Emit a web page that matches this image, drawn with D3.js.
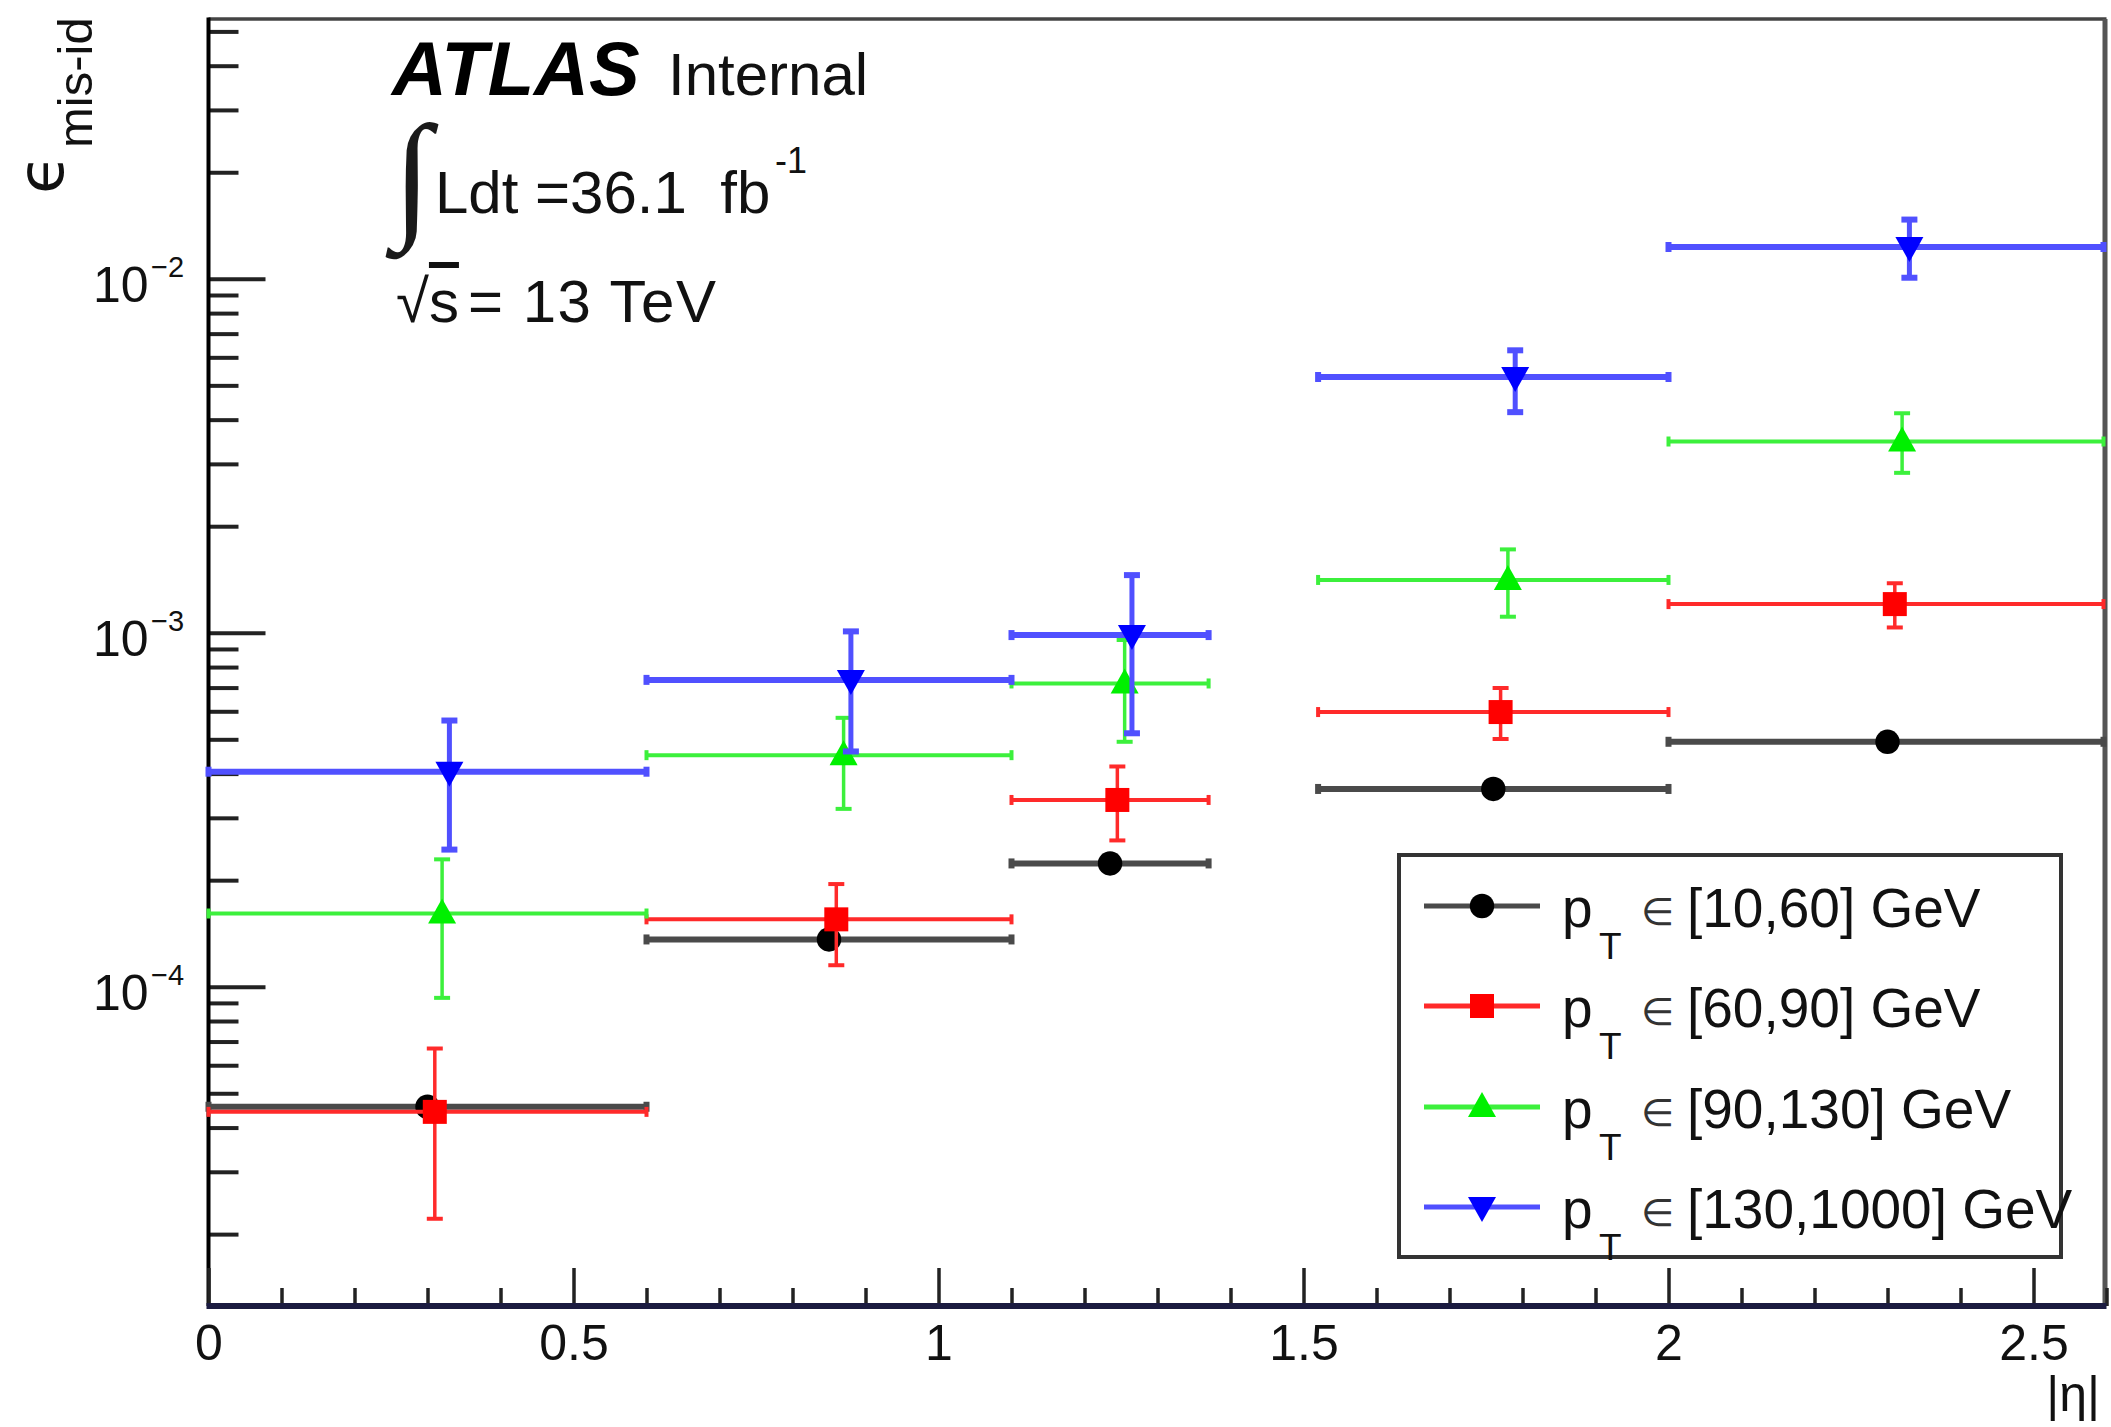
<!DOCTYPE html>
<html>
<head>
<meta charset="utf-8">
<script src="https://cdn.jsdelivr.net/npm/d3@7"></script>
<style>
  html, body { margin: 0; padding: 0; background: #fff; }
  svg { display: block; font-family: "Liberation Sans", Arial, Helvetica, sans-serif; }
  text { white-space: pre; }
</style>
</head>
<body>
<svg id="chart" width="2111" height="1427"></svg>
<script>
// |eta| bin edges (horizontal error bars span the whole bin)
const binLow  = [0.0, 0.6, 1.1, 1.52, 2.0];
const binHigh = [0.6, 1.1, 1.37, 2.0, 2.6];

// marker |eta| positions, one array per pT range
const etaPt10   = [0.300, 0.850, 1.235, 1.760, 2.300];
const etaPt60   = [0.310, 0.860, 1.245, 1.770, 2.310];
const etaPt90   = [0.320, 0.870, 1.255, 1.780, 2.320];
const etaPt130  = [0.330, 0.880, 1.265, 1.790, 2.330];

// mis-identification rate and its up/down uncertainties
const effPt10   = [4.58e-5, 1.36e-4, 2.23e-4, 3.62e-4, 4.92e-4];
const upPt10    = [1.5e-6, 4e-6, 6e-6, 8e-6, 1.0e-5];
const downPt10  = [1.5e-6, 4e-6, 6e-6, 8e-6, 1.0e-5];

const effPt60   = [4.43e-5, 1.55e-4, 3.37e-4, 5.97e-4, 1.205e-3];
const upPt60    = [2.26e-5, 4.0e-5, 8.2e-5, 1.01e-4, 1.75e-4];
const downPt60  = [2.22e-5, 4.0e-5, 7.8e-5, 9.6e-5, 1.70e-4];

const effPt90   = [1.61e-4, 4.51e-4, 7.19e-4, 1.41e-3, 3.47e-3];
const upPt90    = [6.8e-5, 1.24e-4, 2.35e-4, 3.1e-4, 7.0e-4];
const downPt90  = [6.8e-5, 1.33e-4, 2.27e-4, 3.0e-4, 6.4e-4];

const effPt130  = [4.05e-4, 7.36e-4, 9.85e-4, 5.28e-3, 1.23e-2];
const upPt130   = [1.60e-4, 2.73e-4, 4.70e-4, 1.00e-3, 2.40e-3];
const downPt130 = [1.61e-4, 2.74e-4, 4.65e-4, 1.08e-3, 2.23e-3];

// legend texts
const ptRanges = ["[10,60] GeV", "[60,90] GeV", "[90,130] GeV", "[130,1000] GeV"];

// axis ticks
const xMajor = [0, 0.5, 1, 1.5, 2, 2.5];
const xMajorLabels = ["0", "0.5", "1", "1.5", "2", "2.5"];
const yMajor = [1e-4, 1e-3, 1e-2];
const yMajorExp = ["\u22124", "\u22123", "\u22122"];

// ---- drawing ----
const styles = [
  { marker: "circle",   fill: "#000000", line: "#4a4a4a", lw: 6 },
  { marker: "square",   fill: "#ff0000", line: "#ff2a2a", lw: 4 },
  { marker: "triUp",    fill: "#00f000", line: "#3cf03c", lw: 4 },
  { marker: "triDown",  fill: "#0000ff", line: "#5050ff", lw: 6 }
];
const series = [
  { eta: etaPt10,  eff: effPt10,  up: upPt10,  down: downPt10,  label: ptRanges[0] },
  { eta: etaPt60,  eff: effPt60,  up: upPt60,  down: downPt60,  label: ptRanges[1] },
  { eta: etaPt90,  eff: effPt90,  up: upPt90,  down: downPt90,  label: ptRanges[2] },
  { eta: etaPt130, eff: effPt130, up: upPt130, down: downPt130, label: ptRanges[3] }
].map((s, i) => Object.assign(s, styles[i]));

const frame = { left: 208.5, right: 2106.5, top: 19, bottom: 1306 };
const x = d3.scaleLinear().domain([0, 2.6]).range([frame.left, frame.right]);
const y = d3.scaleLog().domain([1.253e-5, 0.0542]).range([frame.bottom, frame.top]);

const svg = d3.select("#chart");
svg.append("rect").attr("width", 2111).attr("height", 1427).attr("fill", "#fff");

function markerPath(kind) {
  switch (kind) {
    case "circle":  return d3.symbol(d3.symbolCircle, 470)();
    case "square":  return "M-12,-12H12V12H-12Z";
    case "triUp":   return "M0,-15L14,10H-14Z";
    case "triDown": return "M0,15L14,-10H-14Z";
  }
}

// frame (top and right edges)
svg.append("line").attr("x1", frame.left).attr("x2", frame.right)
  .attr("y1", frame.top).attr("y2", frame.top)
  .attr("stroke", "#444").attr("stroke-width", 3.5);
svg.append("line").attr("x1", frame.right - 1.5).attr("x2", frame.right - 1.5)
  .attr("y1", frame.top).attr("y2", frame.bottom)
  .attr("stroke", "#555").attr("stroke-width", 5);

// y axis: minor then major ticks
const yMinor = y.ticks().filter(v => !yMajor.some(m => Math.abs(m - v) / m < 1e-6));
const yAxisMinor = d3.axisLeft(y).tickValues(yMinor).tickSize(-30).tickFormat("");
const yAxisMajor = d3.axisLeft(y).tickValues(yMajor).tickSize(-57).tickFormat("");
[yAxisMinor, yAxisMajor].forEach(ax => {
  const g = svg.append("g").attr("transform", `translate(${frame.left},0)`).call(ax);
  g.select(".domain").remove();
  g.selectAll(".tick line").attr("stroke", "#222").attr("stroke-width", 4);
});
svg.append("line").attr("x1", frame.left).attr("x2", frame.left)
  .attr("y1", frame.top - 1.5).attr("y2", frame.bottom)
  .attr("stroke", "#000").attr("stroke-width", 4);

// y tick labels 10^n
const yLab = svg.append("g").attr("fill", "#111");
yMajor.forEach((v, i) => {
  yLab.append("text").attr("x", 93).attr("y", y(v) + 23).attr("font-size", 50).text("10");
  yLab.append("text").attr("x", 151).attr("y", y(v) - 2).attr("font-size", 29).text(yMajorExp[i]);
});

// x axis: minor then major ticks
const xMinor = x.ticks(26).filter(v => !xMajor.some(m => Math.abs(m - v) < 1e-9));
const xAxisMinor = d3.axisBottom(x).tickValues(xMinor).tickSize(-18).tickFormat("");
const xAxisMajor = d3.axisBottom(x).tickValues(xMajor).tickSize(-38)
  .tickFormat((d, i) => xMajorLabels[i]).tickPadding(20);
[xAxisMinor, xAxisMajor].forEach(ax => {
  const g = svg.append("g").attr("transform", `translate(0,${frame.bottom})`).call(ax);
  g.select(".domain").remove();
  g.selectAll(".tick line").attr("stroke", "#222").attr("stroke-width", 3.5);
  g.selectAll(".tick text")
    .attr("font-size", 50).attr("font-family", "Liberation Sans, Arial, sans-serif")
    .attr("fill", "#111").attr("y", 54).attr("dy", 0);
});
svg.append("line").attr("x1", frame.left - 2).attr("x2", frame.right)
  .attr("y1", frame.bottom).attr("y2", frame.bottom)
  .attr("stroke", "#1b1b40").attr("stroke-width", 6);

// axis titles
svg.append("text").attr("x", 2100).attr("y", 1411).attr("text-anchor", "end")
  .attr("font-size", 50).attr("fill", "#111").text("|\u03b7|");

svg.append("text").attr("transform", "translate(63,194) rotate(-90)")
  .attr("font-family", "DejaVu Sans").attr("font-size", 64).attr("fill", "#111").text("\u03f5");
svg.append("text").attr("transform", "translate(92,148) rotate(-90)")
  .attr("font-size", 49).attr("fill", "#111").text("mis-id");

// data: error bars then markers, series drawn in order
const cap = 8, endCap = 5;
series.forEach(s => {
  const g = svg.append("g");
  const eb = g.append("g").attr("stroke", s.line).attr("stroke-width", s.lw).attr("fill", "none");
  s.eff.forEach((v, i) => {
    const yc = y(v), xc = x(s.eta[i]);
    const x0 = x(binLow[i]), x1 = Math.min(x(binHigh[i]), frame.right - 3);
    eb.append("line").attr("x1", x0).attr("x2", x1).attr("y1", yc).attr("y2", yc);
    eb.append("line").attr("x1", x0).attr("x2", x0).attr("y1", yc - endCap).attr("y2", yc + endCap);
    eb.append("line").attr("x1", x1).attr("x2", x1).attr("y1", yc - endCap).attr("y2", yc + endCap);
    const yt = y(v + s.up[i]), yb = y(v - s.down[i]);
    eb.append("line").attr("x1", xc).attr("x2", xc).attr("y1", yt).attr("y2", yb)
      .attr("stroke-width", Math.max(s.lw - 1, 3.5));
    eb.append("line").attr("x1", xc - cap).attr("x2", xc + cap).attr("y1", yt).attr("y2", yt);
    eb.append("line").attr("x1", xc - cap).attr("x2", xc + cap).attr("y1", yb).attr("y2", yb);
  });
  g.selectAll("path.mk").data(s.eff).join("path").attr("class", "mk")
    .attr("d", markerPath(s.marker)).attr("fill", s.fill)
    .attr("transform", (v, i) => `translate(${x(s.eta[i])},${y(v)})`);
});

// labels in the upper-left corner
const lab = svg.append("g").attr("fill", "#111");
lab.append("text").attr("x", 392).attr("y", 95).attr("font-size", 76)
  .attr("font-weight", "bold").attr("font-style", "italic").attr("fill", "#000").text("ATLAS");
lab.append("text").attr("x", 668).attr("y", 95).attr("font-size", 60).text("Internal");
lab.append("text").attr("x", 393).attr("y", 222).attr("font-size", 140)
  .attr("font-family", "Liberation Serif").attr("fill", "#1a1a1a").text("\u222b");
lab.append("text").attr("x", 435).attr("y", 213).attr("font-size", 60).text("Ldt =36.1  fb");
lab.append("text").attr("x", 775).attr("y", 173).attr("font-size", 36).text("-1");
const sq = lab.append("text").attr("x", 396).attr("y", 322).attr("font-size", 60);
sq.append("tspan").text("\u221a");
sq.append("tspan").style("text-decoration", "overline").text("s");
lab.append("text").attr("x", 468).attr("y", 322).attr("font-size", 60)
  .attr("letter-spacing", 1.5).text("= 13 TeV");

// legend
const lg = svg.append("g");
lg.append("rect").attr("x", 1399).attr("y", 855).attr("width", 662).attr("height", 402)
  .attr("fill", "#fff").attr("stroke", "#333").attr("stroke-width", 4);
const rowY = [906, 1006, 1107, 1207];
series.forEach((s, i) => {
  const ry = rowY[i];
  lg.append("line").attr("x1", 1424).attr("x2", 1540).attr("y1", ry).attr("y2", ry)
    .attr("stroke", s.line).attr("stroke-width", 5);
  lg.append("path").attr("d", markerPath(s.marker)).attr("fill", s.fill)
    .attr("transform", `translate(1482,${ry})`);
  lg.append("text").attr("x", 1562).attr("y", ry + 21).attr("font-size", 55).attr("fill", "#111").text("p");
  lg.append("text").attr("x", 1599).attr("y", ry + 53).attr("font-size", 37).attr("fill", "#111").text("T");
  lg.append("text").attr("x", 1641).attr("y", ry + 19).attr("font-size", 38)
    .attr("font-family", "DejaVu Sans").attr("fill", "#333").text("\u2208");
  lg.append("text").attr("x", 1687).attr("y", ry + 21).attr("font-size", 55).attr("fill", "#111").text(s.label);
});
</script>
</body>
</html>
